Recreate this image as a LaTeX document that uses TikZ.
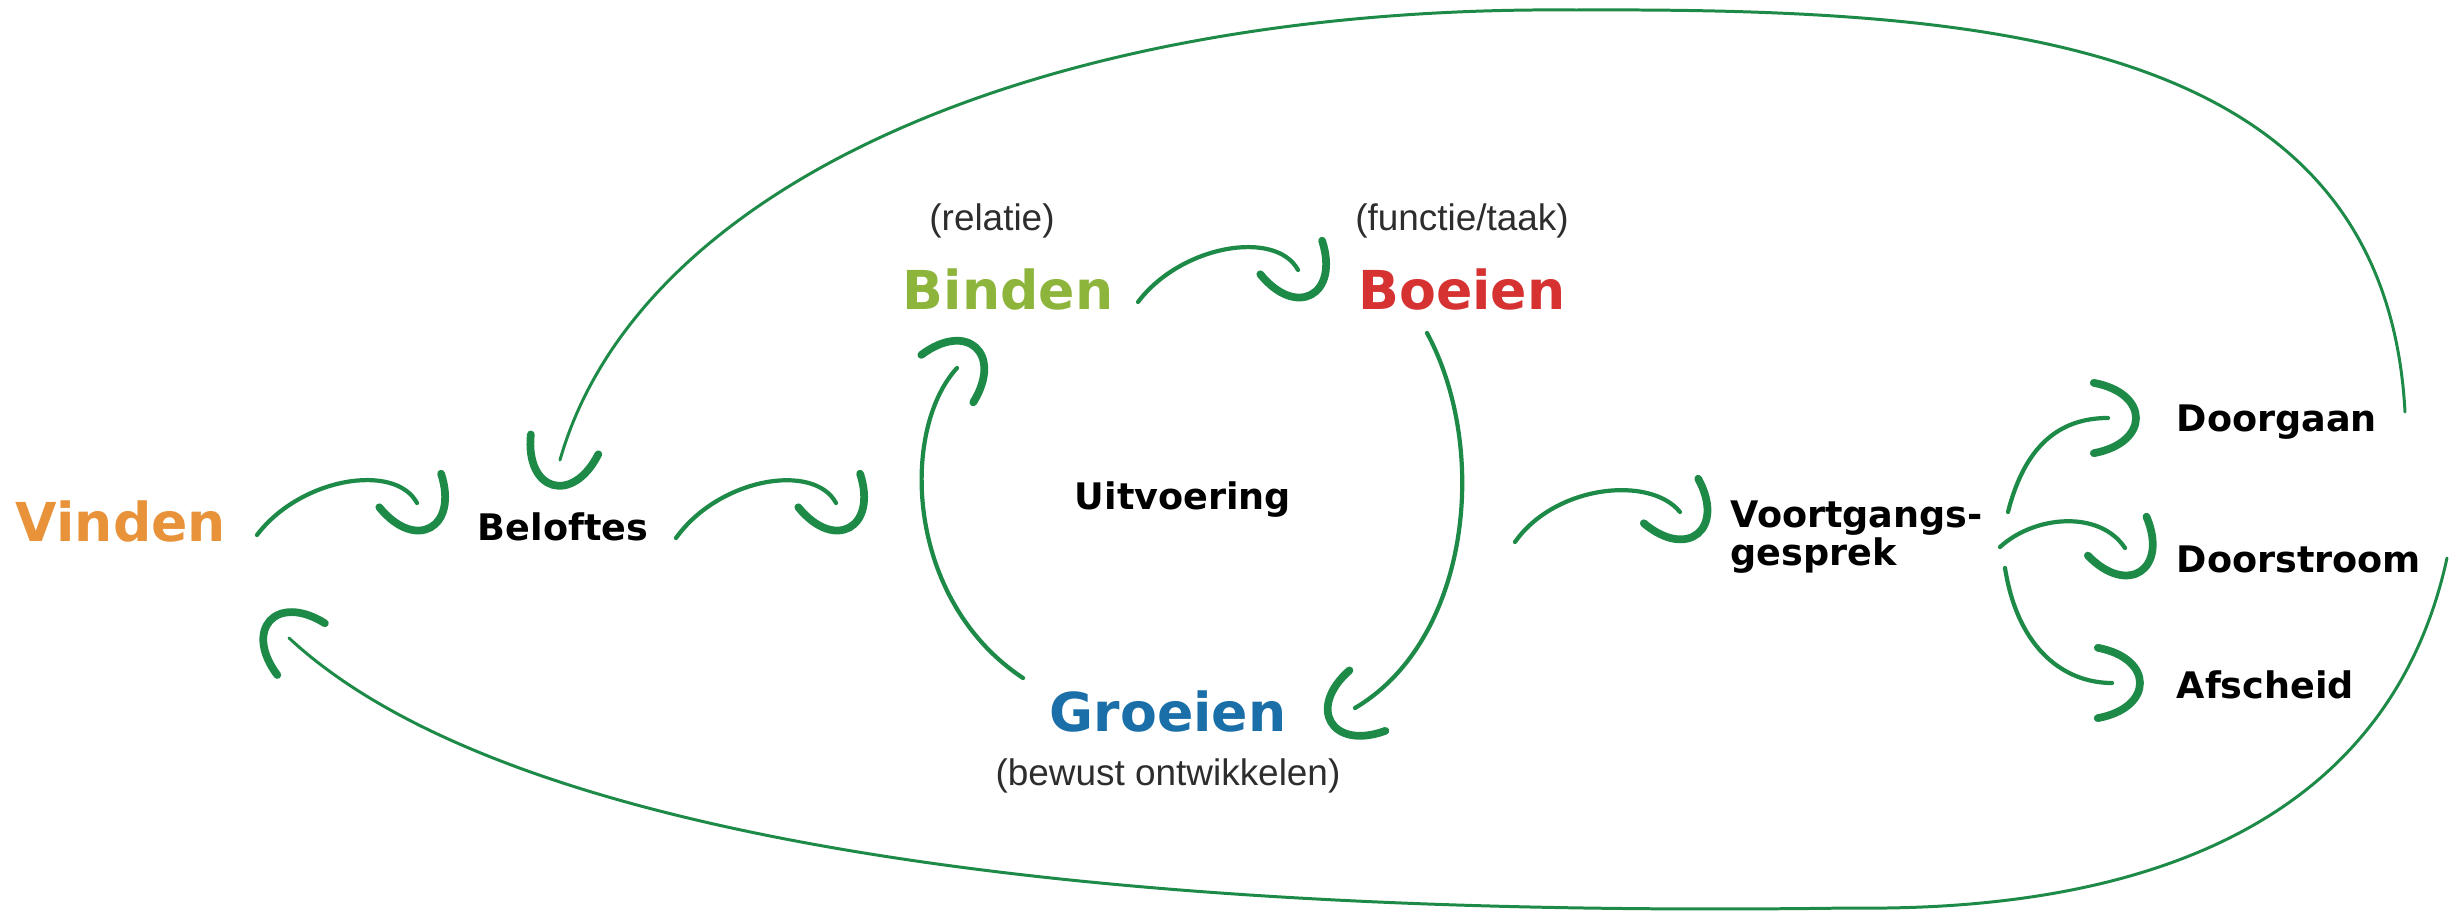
\documentclass[tikz,border=0pt]{standalone}
\usepackage{fontspec}
\setmainfont{Liberation Sans}
\newfontfamily\heavy{DejaVu Sans}
\usepackage{tikz}
\usetikzlibrary{decorations.markings}
\usetikzlibrary{positioning}
\definecolor{arrowgreen}{RGB}{30,138,72}
\definecolor{vindenorange}{RGB}{232,146,58}
\definecolor{bindengreen}{RGB}{141,181,60}
\definecolor{boeienred}{RGB}{214,50,50}
\definecolor{groeienblue}{RGB}{27,111,168}
\definecolor{notegray}{RGB}{45,45,45}
\tikzstyle{every node}+=[inner sep=0pt]
\tikzstyle{phase} = [font=\heavy\bfseries\fontsize{15.25}{18}\selectfont, anchor=base]
\tikzstyle{stage} = [font=\heavy\bfseries\fontsize{10.4}{11}\selectfont, text=black, anchor=base west]
\tikzstyle{note} = [font=\fontsize{10.5}{12}\selectfont, text=notegray, anchor=base]
\tikzstyle{head} = [draw=arrowgreen, line width=2.2pt, line cap=round]
\tikzstyle{line} = [draw=arrowgreen, line width=1.2pt, line cap=round, postaction={decorate},
  decoration={markings, mark=at position 0.999 with {\draw[head] (-4pt,10pt) .. controls (12pt,7pt) and (12pt,-7pt) .. (-4pt,-10pt);}}]
\tikzstyle{backline} = [line, line width=0.85pt]

\begin{document}
\begin{tikzpicture}[x=0.01cm, y=-0.01cm]
            \useasboundingbox (0,0) rectangle (2450,912);
            % Place nodes
            \node [phase, text=vindenorange] (vinden) at (121,541) {Vinden};
            \node [stage, anchor=base] (beloftes) at (563,540) {Beloftes};
            \node [phase, text=bindengreen] (binden) at (1008,309) {Binden};
            \node [note, above=0.78cm of binden.base, anchor=base, xshift=-0.16cm] (relatie) {(relatie)};
            \node [phase, text=boeienred] (boeien) at (1462,309) {Boeien};
            \node [note, above=0.78cm of boeien.base, anchor=base] (functie) {(functie/taak)};
            \node [stage, anchor=base] (uitvoering) at (1183,509) {Uitvoering};
            \node [phase, text=groeienblue] (groeien) at (1168,731) {Groeien};
            \node [note, below=0.54cm of groeien.base, anchor=base] (bewust) {(bewust ontwikkelen)};
            \node [stage, anchor=west, align=left] (voortgang) at (1730,537) {Voortgangs-\\gesprek};
            \node [stage] (doorgaan) at (2176,431) {Doorgaan};
            \node [stage, below=1.41cm of doorgaan.base west, anchor=base west] (doorstroom) {Doorstroom};
            \node [stage, below=1.26cm of doorstroom.base west, anchor=base west] (afscheid) {Afscheid};
            % Arrow ends
            \coordinate (vb1) at (257,535);  \coordinate (vb2) at (417,503);
            \coordinate (bu1) at (676,538);  \coordinate (bu2) at (836,503);
            \coordinate (bb1) at (1138,302); \coordinate (bb2) at (1298,270);
            \coordinate (bg1) at (1427,333); \coordinate (bg2) at (1355,708);
            \coordinate (gb1) at (1023,678); \coordinate (gb2) at (957,368);
            \coordinate (uv1) at (1515,542); \coordinate (uv2) at (1680,512);
            \coordinate (vd1) at (2008,512); \coordinate (vd2) at (2108,418);
            \coordinate (vs1) at (2000,547); \coordinate (vs2) at (2125,548);
            \coordinate (va1) at (2005,568); \coordinate (va2) at (2112,683);
            \coordinate (tl1) at (2405,412); \coordinate (tl2) at (560,460);
            \coordinate (bl1) at (2447,558); \coordinate (bl2) at (289,638);
            % Draw edges
            \path [line] (vb1) .. controls (300,478) and (395,462) .. (vb2);
            \path [line] (bu1) .. controls (719,478) and (814,462) .. (bu2);
            \path [line] (bb1) .. controls (1181,245) and (1276,229) .. (bb2);
            \path [line] (bg1) .. controls (1490,450) and (1470,640) .. (bg2);
            \path [line] (gb1) .. controls (905,600) and (900,430) .. (gb2);
            \path [line] (uv1) .. controls (1555,485) and (1650,475) .. (uv2);
            \path [line] (vd1) .. controls (2025,445) and (2060,418) .. (vd2);
            \path [line] (vs1) .. controls (2035,515) and (2100,510) .. (vs2);
            \path [line] (va1) .. controls (2018,650) and (2065,683) .. (va2);
            \path [backline] (tl1) .. controls (2385,40) and (2000,8) .. (1576,10)
                                   .. controls (1050,5) and (640,180) .. (tl2);
            \path [backline] (bl1) .. controls (2390,820) and (2150,912) .. (1850,908)
                                   .. controls (1350,915) and (560,890) .. (bl2);
          \end{tikzpicture}
\end{document}
